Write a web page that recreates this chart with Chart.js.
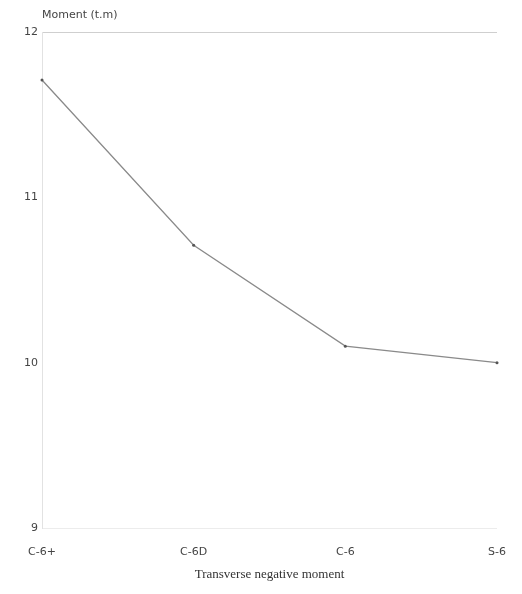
<!DOCTYPE html>
<html>
<head>
<meta charset="utf-8">
<script src="https://cdn.jsdelivr.net/npm/chart.js@4/dist/chart.umd.min.js"></script>
<style>
  html, body { margin: 0; padding: 0; background: #fff; }
  #grafico { display: block; }
</style>
</head>
<body>
<canvas id="grafico" width="522" height="594"></canvas>
<script>
// datos
const categorias = ['C-6+', 'C-6D', 'C-6', 'S-6'];
const momentos = [11.71, 10.71, 10.1, 10.0];
const ticksY = [9, 10, 11, 12];

const tituloEjeY = {
    id: 'tituloEjeY',
    afterDraw(chart) {
        const ctx = chart.ctx;
        ctx.save();
        ctx.font = '11px "DejaVu Sans"';
        ctx.fillStyle = '#444';
        ctx.textBaseline = 'middle';
        ctx.fillText('Moment (t.m)', chart.chartArea.left, 15);
        ctx.restore();
    }
};

new Chart(document.getElementById('grafico').getContext('2d'), {
    type: 'line',
    data: {
        labels: categorias,
        datasets: [{
            label: 'Moment',
            data: momentos,
            borderColor: '#8a8a8a',
            borderWidth: 1.3,
            pointRadius: 1.5,
            pointBackgroundColor: '#555',
            pointBorderWidth: 0,
            tension: 0
        }]
    },
    options: {
        responsive: false,
        animation: false,
        layout: { padding: { top: 32, right: 25, left: 0, bottom: 0 } },
        plugins: {
            legend: { display: false },
            tooltip: { enabled: false }
        },
        scales: {
            x: {
                offset: false,
                grid: { display: false },
                border: { display: false },
                ticks: {
                    color: '#444',
                    font: { family: 'DejaVu Sans', size: 11 },
                    padding: 10,
                    maxRotation: 0
                },
                title: {
                    display: true,
                    text: 'Transverse negative moment',
                    color: '#333',
                    font: { family: 'Liberation Serif', size: 13 },
                    padding: { top: 6, bottom: 12 }
                },
                afterFit: (escala) => { escala.height = 66; }
            },
            y: {
                min: 9,
                max: 12,
                afterBuildTicks: (escala) => { escala.ticks = ticksY.map(v => ({ value: v })); },
                grid: {
                    drawTicks: false,
                    color: (c) => c.tick && c.tick.value === 12 ? '#cfcfcf'
                        : (c.tick && c.tick.value === 9 ? '#ececec' : 'rgba(0,0,0,0)')
                },
                border: { color: '#e2e2e2' },
                ticks: {
                    color: '#444',
                    font: { family: 'DejaVu Sans', size: 11 },
                    padding: 4
                },
                afterFit: (escala) => { escala.width = 42; }
            }
        }
    },
    plugins: [tituloEjeY]
});
</script>
</body>
</html>
